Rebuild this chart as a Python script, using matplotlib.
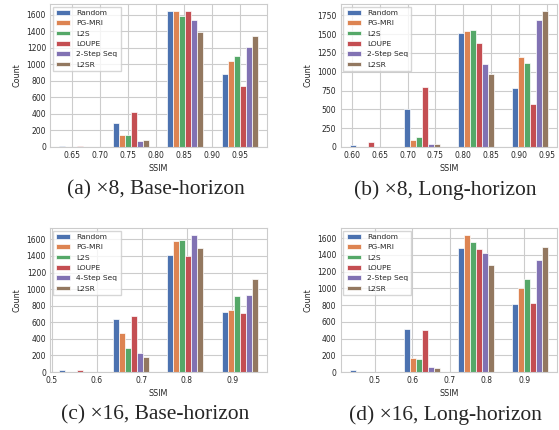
import numpy as np
import matplotlib
matplotlib.use('Agg')
import matplotlib.pyplot as plt
import seaborn as sns

sns.set_style('whitegrid')
plt.rcParams['font.family'] = ['DejaVu Sans']
plt.rcParams['axes.linewidth'] = 0.8
plt.rcParams['grid.linewidth'] = 0.8

# legend names (panel c uses 4-Step Seq instead of 2-Step Seq)
methods_2step = ['Random', 'PG-MRI', 'L2S', 'LOUPE', '2-Step Seq', 'L2SR']
methods_4step = ['Random', 'PG-MRI', 'L2S', 'LOUPE', '4-Step Seq', 'L2SR']

# SSIM range covered by the 4 histogram bins in each panel
ssim_range_a = (0.611, 0.998)
ssim_range_b = (0.580, 0.968)
ssim_range_c = (0.4967, 0.9765)
ssim_range_d = (0.409, 0.987)

# counts per method, one value per bin (low SSIM -> high SSIM)
counts_a = [
    [15, 287, 1648, 880],    # Random
    [0, 142, 1640, 1045],    # PG-MRI
    [0, 142, 1580, 1105],    # L2S
    [8, 425, 1640, 741],     # LOUPE
    [0, 69, 1540, 1215],     # 2-Step Seq
    [0, 85, 1395, 1348],     # L2SR
]
counts_b = [
    [30, 500, 1510, 780],
    [0, 90, 1540, 1195],
    [0, 135, 1560, 1115],
    [60, 800, 1385, 570],
    [0, 40, 1100, 1685],
    [0, 40, 975, 1810],
]
counts_c = [
    [28, 640, 1410, 730],
    [0, 475, 1585, 745],
    [0, 290, 1595, 920],
    [20, 680, 1400, 708],
    [0, 225, 1655, 935],
    [0, 185, 1500, 1120],
]
counts_d = [
    [18, 510, 1480, 810],
    [0, 170, 1640, 1005],
    [0, 150, 1550, 1115],
    [0, 505, 1470, 830],
    [0, 55, 1425, 1335],
    [0, 42, 1285, 1490],
]

captions = ['(a) \u00d78, Base-horizon', '(b) \u00d78, Long-horizon',
            '(c) \u00d716, Base-horizon', '(d) \u00d716, Long-horizon']

colors = sns.color_palette('deep', 6)
W, H = 559, 430


def draw_panel(ax, counts, ssim_range, methods, xstep, ystep):
    lo, hi = ssim_range
    edges = np.linspace(lo, hi, len(counts[0]) + 1)
    bw = edges[1] - edges[0]
    group_w = 0.665 * bw
    bar_w = group_w / len(methods)
    for i, (name, vals) in enumerate(zip(methods, counts)):
        x = edges[:-1] + (bw - group_w) / 2 + i * bar_w
        ax.bar(x, vals, width=bar_w, align='edge', color=colors[i],
               edgecolor='white', linewidth=0.5, label=name)
    ax.set_xlim(lo, hi)
    ax.xaxis.set_major_locator(plt.MultipleLocator(xstep))
    ax.yaxis.set_major_locator(plt.MultipleLocator(ystep))
    ax.set_xlabel('SSIM', fontsize=5.8, labelpad=2.5)
    ax.set_ylabel('Count', fontsize=5.8, labelpad=3.5)
    ax.tick_params(labelsize=5.5, pad=3, length=0)
    ax.legend(loc='upper left', fontsize=5.4, frameon=True, handlelength=1.9,
              handleheight=0.55, labelspacing=0.58, borderpad=0.45,
              handletextpad=0.8, borderaxespad=0.35, fancybox=False)


fig = plt.figure(figsize=(W / 100, H / 100), dpi=100)

# axes boxes in pixels: left, top, right, bottom
boxes = [(50.2, 4, 266.6, 147), (340.6, 4, 557.0, 147),
         (50.2, 228, 266.6, 372), (340.6, 228, 557.0, 372)]
panels = [(counts_a, ssim_range_a, methods_2step, 0.05, 200),
          (counts_b, ssim_range_b, methods_2step, 0.05, 250),
          (counts_c, ssim_range_c, methods_4step, 0.1, 200),
          (counts_d, ssim_range_d, methods_2step, 0.1, 200)]
caption_pos = [(156, 190), (445, 190), (155, 415), (445, 415)]

for (l, t, r, b), panel, cap, (cx, cy) in zip(boxes, panels, captions, caption_pos):
    ax = fig.add_axes([l / W, 1 - b / H, (r - l) / W, (b - t) / H])
    draw_panel(ax, *panel)
    fig.text(cx / W, 1 - cy / H, cap, ha='center', va='center',
             fontsize=15.5, family='Liberation Serif')

fig.savefig('out.png', dpi=100)
